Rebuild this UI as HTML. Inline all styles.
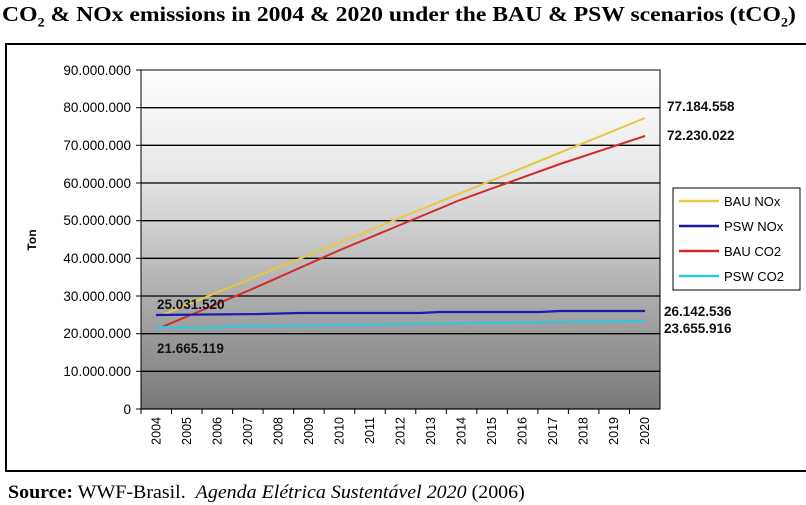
<!DOCTYPE html>
<html><head><meta charset="utf-8"><style>
body{margin:0;width:806px;height:505px;background:#fff;overflow:hidden;position:relative;font-family:"Liberation Sans",sans-serif}
.t{position:absolute;left:2px;top:2px;font:bold 21.5px "Liberation Serif",serif;white-space:nowrap;color:#000;transform:scaleX(1.1);transform-origin:0 0}
.s{position:absolute;left:8px;top:482px;font:19px "Liberation Serif",serif;white-space:nowrap;transform:scaleX(1.05);transform-origin:0 0}
</style></head><body>
<div class="t">CO<sub style="font-size:13px">2</sub> &amp; NOx emissions in 2004 &amp; 2020 under the BAU &amp; PSW scenarios (tCO<sub style="font-size:13px">2</sub>)</div>
<svg width="806" height="505" style="position:absolute;left:0;top:0">
<defs><linearGradient id="g" x1="0" y1="0" x2="0" y2="1">
<stop offset="0" stop-color="#ffffff"/><stop offset="0.3" stop-color="#e8e8e8"/><stop offset="0.6" stop-color="#b8b8b8"/><stop offset="1" stop-color="#787878"/></linearGradient></defs>
<rect x="6" y="44" width="810" height="427" fill="none" stroke="#000" stroke-width="2"/>
<rect x="141" y="70" width="519" height="339" fill="url(#g)" stroke="#000" stroke-width="1"/>
<g stroke="#000" stroke-width="1.3">
<line x1="141" x2="660" y1="107.7" y2="107.7"/><line x1="141" x2="660" y1="145.3" y2="145.3"/><line x1="141" x2="660" y1="183" y2="183"/><line x1="141" x2="660" y1="220.7" y2="220.7"/><line x1="141" x2="660" y1="258.3" y2="258.3"/><line x1="141" x2="660" y1="296" y2="296"/><line x1="141" x2="660" y1="333.7" y2="333.7"/><line x1="141" x2="660" y1="371.3" y2="371.3"/>
<line x1="141" x2="660" y1="409" y2="409"/>
</g>
<g stroke="#000" stroke-width="1">
<line x1="136" x2="141" y1="70" y2="70"/><line x1="136" x2="141" y1="107.7" y2="107.7"/><line x1="136" x2="141" y1="145.3" y2="145.3"/><line x1="136" x2="141" y1="183" y2="183"/><line x1="136" x2="141" y1="220.7" y2="220.7"/><line x1="136" x2="141" y1="258.3" y2="258.3"/><line x1="136" x2="141" y1="296" y2="296"/><line x1="136" x2="141" y1="333.7" y2="333.7"/><line x1="136" x2="141" y1="371.3" y2="371.3"/><line x1="136" x2="141" y1="409" y2="409"/>
</g>
<g font-size="13.5" fill="#000" text-anchor="end">
<text x="131" y="75">90.000.000</text><text x="131" y="112">80.000.000</text><text x="131" y="150">70.000.000</text><text x="131" y="188">60.000.000</text><text x="131" y="225">50.000.000</text><text x="131" y="263">40.000.000</text><text x="131" y="301">30.000.000</text><text x="131" y="338">20.000.000</text><text x="131" y="376">10.000.000</text><text x="131" y="414">0</text>
</g>
<text x="36" y="240" font-size="12" font-weight="bold" transform="rotate(-90 36 240)" text-anchor="middle">Ton</text>
<g id="xt" font-size="12.5" text-anchor="end"></g>
<polyline fill="none" stroke="#e8c840" stroke-width="2" points="162,315 645,118"/>
<polyline fill="none" stroke="#d42a2a" stroke-width="2" points="162,327 250,290 340,250 460,200 560,164 645,136"/>
<polyline fill="none" stroke="#1a1ab0" stroke-width="2.2" points="156,315 260,314 300,313 420,313 440,312 540,312 560,311 645,311"/>
<polyline fill="none" stroke="#30c8e0" stroke-width="2.2" points="156,327 210,328 240,326 360,325 400,324 645,321"/>
<g font-size="13.5" font-weight="bold" fill="#111">
<text x="157" y="309">25.031.520</text><text x="157" y="353">21.665.119</text>
<text x="667" y="111">77.184.558</text><text x="667" y="140">72.230.022</text>
<text x="664" y="316">26.142.536</text><text x="664" y="333">23.655.916</text>
</g>
<rect x="673" y="188" width="127" height="102" fill="#fff" stroke="#000"/>
<g stroke-width="2.5"><line x1="679" x2="719" y1="201" y2="201" stroke="#e8c840"/><line x1="679" x2="719" y1="226" y2="226" stroke="#1a1ab0"/><line x1="679" x2="719" y1="251" y2="251" stroke="#d42a2a"/><line x1="679" x2="719" y1="276" y2="276" stroke="#30c8e0"/></g>
<g font-size="13"><text x="724" y="206">BAU NOx</text><text x="724" y="231">PSW NOx</text><text x="724" y="256">BAU CO2</text><text x="724" y="281">PSW CO2</text></g>
</svg>
<div class="s"><b>Source:</b> WWF-Brasil.&nbsp; <i>Agenda Elétrica Sustentável 2020</i> (2006)</div>
<script>
var g=document.getElementById('xt'),s='';
for(var i=0;i<17;i++){var x=141+i*519/17+15.3;s+='<text x="'+(x+4)+'" y="417" transform="rotate(-90 '+(x+4)+' 417)">'+(2004+i)+'</text><line x1="'+(141+i*519/17)+'" x2="'+(141+i*519/17)+'" y1="409" y2="414" stroke="#000"/>';}
g.innerHTML=s;
</script>
</body></html>
